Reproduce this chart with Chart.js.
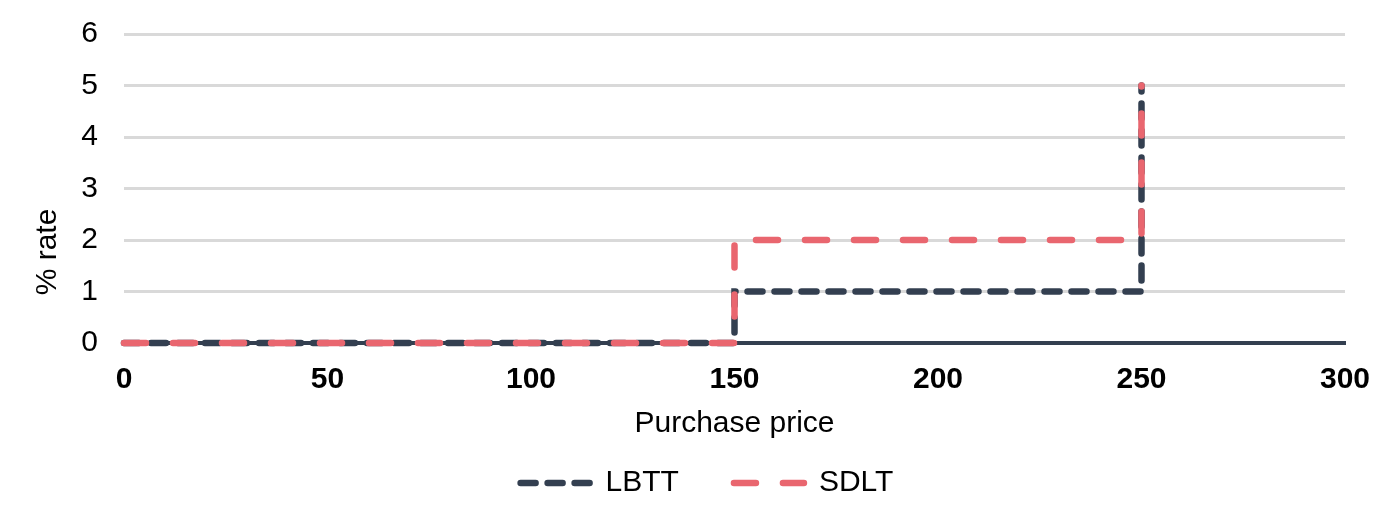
<!DOCTYPE html>
<html>
<head>
<meta charset="utf-8">
<script src="https://cdn.jsdelivr.net/npm/chart.js@4.4.1/dist/chart.umd.min.js"></script>
<style>
  html, body { margin: 0; padding: 0; background: #fff; }
</style>
</head>
<body>
<canvas id="rateChart" width="1392" height="518" style="width:1392px;height:518px;display:block"></canvas>
<script>
// purchase price breakpoints (thousands) and rate in each band
let priceBreaks = [0, 150, 150, 250, 250];
let lbttRates = [0, 0, 1, 1, 5];
let sdltRates = [0, 0, 2, 2, 5];
let xTickValues = [0, 50, 100, 150, 200, 250, 300];
let yTickValues = [0, 1, 2, 3, 4, 5, 6];
let xTitle = "Purchase price";
let yTitle = "% rate";

let darkColor = "#333F50";
let redColor = "#E9666F";

Chart.defaults.font.family = '"Liberation Sans", Arial, sans-serif';
Chart.defaults.color = "#000";

function toPoints(rates) {
    return rates.map((r, i) => ({ x: priceBreaks[i], y: r }));
}

// y title sits lower than the axis middle in the original, so draw it here
let yTitlePlugin = {
    id: "yTitle",
    afterDraw(chart) {
        let ctx = chart.ctx;
        ctx.save();
        ctx.translate(48, 252);
        ctx.rotate(-Math.PI / 2);
        ctx.font = '30px "Liberation Sans", Arial, sans-serif';
        ctx.fillStyle = "#000";
        ctx.textAlign = "center";
        ctx.textBaseline = "middle";
        ctx.fillText(yTitle, 0, 0);
        ctx.restore();
    }
};

// legend items need the dataset dash pattern (point style drops it)
function legendLabels(chart) {
    let items = Chart.defaults.plugins.legend.labels.generateLabels(chart);
    items.forEach(item => {
        let ds = chart.data.datasets[item.datasetIndex];
        item.lineDash = ds.borderDash;
        item.lineCap = ds.borderCapStyle;
        item.lineWidth = ds.borderWidth;
        item.strokeStyle = ds.borderColor;
        item.fillStyle = ds.borderColor;
    });
    return items.sort((a, b) => a.datasetIndex - b.datasetIndex);
}

let ctx = document.getElementById("rateChart").getContext("2d");

let myChart = new Chart(ctx, {
    type: "line",
    data: {
        datasets: [
            {
                label: "LBTT",
                data: toPoints(lbttRates),
                borderColor: darkColor,
                backgroundColor: darkColor,
                borderWidth: 6.5,
                borderDash: [15, 12],
                borderCapStyle: "round",
                pointRadius: 0,
                tension: 0,
                clip: false,
                order: 1
            },
            {
                label: "SDLT",
                data: toPoints(sdltRates),
                borderColor: redColor,
                backgroundColor: redColor,
                borderWidth: 6.5,
                borderDash: [22, 27],
                borderCapStyle: "round",
                pointRadius: 0,
                tension: 0,
                clip: false,
                order: 0
            }
        ]
    },
    options: {
        responsive: false,
        animation: false,
        layout: {
            padding: { left: 22, right: 0, top: 34, bottom: 10 }
        },
        plugins: {
            tooltip: { enabled: false },
            legend: {
                position: "bottom",
                labels: {
                    usePointStyle: true,
                    pointStyle: "line",
                    pointStyleWidth: 70,
                    padding: 55,
                    font: { size: 30 },
                    color: "#000",
                    generateLabels: legendLabels
                }
            }
        },
        scales: {
            x: {
                type: "linear",
                min: 0,
                max: 300,
                afterBuildTicks: axis => {
                    axis.ticks = xTickValues.map(v => ({ value: v }));
                },
                afterFit: axis => {
                    axis.height = 70;
                    axis.paddingRight = 47;
                },
                grid: { drawOnChartArea: false, drawTicks: false },
                border: { display: true, color: darkColor, width: 4 },
                ticks: {
                    padding: 19,
                    maxRotation: 0,
                    autoSkip: false,
                    font: { size: 30, weight: "bold" },
                    color: "#000"
                },
                title: {
                    display: true,
                    text: xTitle,
                    font: { size: 30 },
                    color: "#000",
                    padding: { top: 0, bottom: -29 }
                }
            },
            y: {
                min: 0,
                max: 6,
                afterBuildTicks: axis => {
                    axis.ticks = yTickValues.map(v => ({ value: v }));
                },
                afterFit: axis => {
                    axis.width = 102;
                    axis.paddingTop = 0;
                    axis.paddingBottom = 0;
                },
                grid: {
                    drawTicks: false,
                    lineWidth: 3,
                    color: c => (c.tick && c.tick.value === 0 ? "rgba(0,0,0,0)" : "#D9D9D9")
                },
                border: { display: false },
                ticks: {
                    padding: 26,
                    font: { size: 30 },
                    color: "#000"
                }
            }
        }
    },
    plugins: [yTitlePlugin]
});
</script>
</body>
</html>
